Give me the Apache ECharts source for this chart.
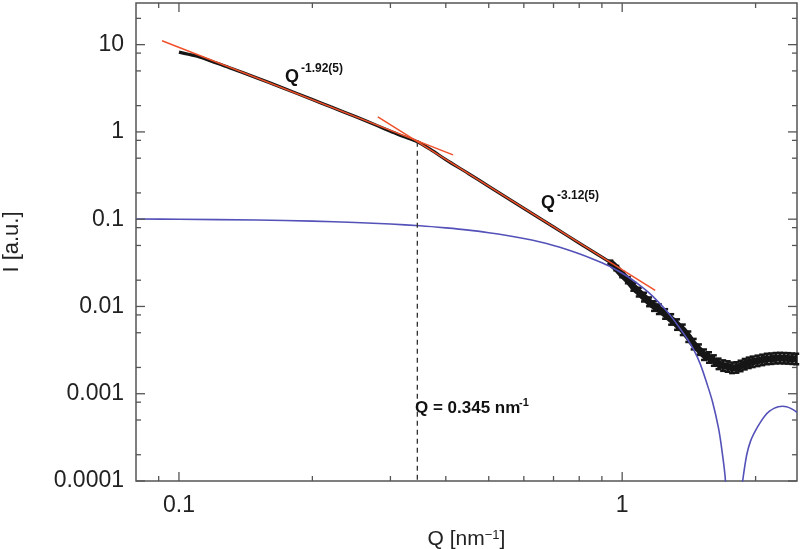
<!DOCTYPE html>
<html><head><meta charset="utf-8">
<script src="https://cdn.jsdelivr.net/npm/echarts@6.0.0/dist/echarts.min.js"></script>
<style>html,body{margin:0;padding:0;background:#fff}#c{width:800px;height:549px}</style>
</head><body><div id="c"></div>
<script>
// Axis extents
const X_MIN = 0.08, X_MAX = 2.48, Y_MIN = 0.0001, Y_MAX = 30;

// Tick values / labels
const xMajorTicks = [0.1, 1];
const xTickLabels = ['0.1', '1'];
const xMinorTicks = [0.09, 0.2, 0.3, 0.4, 0.5, 0.6, 0.7, 0.8, 0.9, 2];
const yMajorTicks = [0.0001, 0.001, 0.01, 0.1, 1, 10];
const yTickLabels = ['0.0001', '0.001', '0.01', '0.1', '1', '10'];
const yMinorTicks = [0.0002, 0.0005, 0.0008, 0.002, 0.005, 0.008, 0.02, 0.05, 0.08,
                     0.2, 0.5, 0.8, 2, 5, 8, 20];

// Measured scattering curve (smooth part)
const dataQ = [0.100, 0.105, 0.110, 0.120, 0.130, 0.150, 0.170, 0.200, 0.220, 0.250, 0.280,
               0.300, 0.320, 0.345, 0.370, 0.400, 0.450, 0.500, 0.550, 0.600, 0.700, 0.800,
               0.900, 0.940];
const dataI = [8.2, 7.75, 7.35, 6.3, 5.45, 4.15, 3.25, 2.35, 1.94, 1.50, 1.18,
               1.02, 0.89, 0.77, 0.625, 0.482, 0.333, 0.238, 0.1755, 0.133, 0.0815, 0.0533,
               0.0367, 0.0320];

// Measured curve, noisy high-Q tail (value and log10 half-width of scatter)
const tailQ = [0.94, 0.97, 1.00, 1.03, 1.06, 1.09, 1.12, 1.15, 1.18, 1.21, 1.25, 1.29, 1.33,
               1.37, 1.41, 1.45, 1.49, 1.53, 1.57, 1.61, 1.65, 1.69, 1.73, 1.77, 1.81, 1.85,
               1.89, 1.93, 1.97, 2.02, 2.07, 2.12, 2.17, 2.22, 2.27, 2.32, 2.37, 2.42, 2.47];
const tailI = [0.0320, 0.0275, 0.0232, 0.0200, 0.0168, 0.0146, 0.0128, 0.0113, 0.0101, 0.0093,
               0.0082, 0.0071, 0.0062, 0.0054, 0.0045, 0.0037, 0.0032, 0.0028, 0.0026, 0.0024,
               0.0022, 0.0021, 0.00205, 0.00198, 0.00200, 0.00208, 0.00218, 0.00226, 0.00232,
               0.00238, 0.00244, 0.00250, 0.00252, 0.00255, 0.00256, 0.00255, 0.00254, 0.00252,
               0.00250];
const tailErr = [0.02, 0.025, 0.03, 0.035, 0.045, 0.05, 0.05, 0.05, 0.055, 0.055, 0.055, 0.06,
                 0.06, 0.06, 0.06, 0.06, 0.06, 0.06, 0.06, 0.06, 0.06, 0.06, 0.06, 0.06, 0.06,
                 0.06, 0.06, 0.06, 0.06, 0.06, 0.06, 0.06, 0.06, 0.06, 0.06, 0.06, 0.06, 0.06,
                 0.06];

// Model curve (blue)
const modelQ = [0.080, 0.100, 0.150, 0.200, 0.250, 0.300, 0.350, 0.400, 0.450, 0.500, 0.550,
                0.600, 0.650, 0.700, 0.750, 0.800, 0.850, 0.900, 0.950, 1.000, 1.050, 1.100,
                1.150, 1.200, 1.250, 1.300, 1.350, 1.400, 1.450, 1.500, 1.550, 1.600, 1.650,
                1.680, 1.710, 1.740, 1.810, 1.850, 1.870, 1.910, 1.950, 2.000, 2.050, 2.100,
                2.150, 2.200, 2.250, 2.300, 2.350, 2.400, 2.450, 2.480];
const modelI = [0.1005, 0.0998, 0.0978, 0.0950, 0.0915, 0.0880, 0.0840, 0.0795, 0.0750, 0.0700,
                0.0650, 0.0600, 0.0550, 0.0500, 0.0450, 0.0402, 0.0357, 0.0316, 0.0278, 0.0240,
                0.0205, 0.0172, 0.0143, 0.0116, 0.0093, 0.0073, 0.0056, 0.0043, 0.0032, 0.0022,
                0.00135, 0.00080, 0.00040, 0.00022, 0.00010, 0.000005, 0.000005, 0.00006, 0.00010,
                0.00020, 0.00029, 0.00038, 0.00047, 0.00056, 0.00063, 0.00068, 0.00071, 0.00072,
                0.00071, 0.00068, 0.00064, 0.00061];

// Power-law fits (end points)
const fit1Q = [0.0916, 0.4153], fit1I = [11.1, 0.545];
const fit2Q = [0.281, 1.187],  fit2I = [1.49, 0.0153];

// Crossover marker
const markerQ = 0.345, markerTopI = 0.77;

const zip = (a, b) => a.map((v, i) => [v, b[i]]);
const AX = '#555', TXT = '#222', FONT = 'Liberation Sans, Arial, sans-serif';

function decadeLabel(v, majors, labels) {
  const lv = Math.log10(v);
  for (let i = 0; i < majors.length; i++) {
    if (Math.abs(Math.log10(majors[i]) - lv) < 1e-6) return labels[i];
  }
  return '';
}

const chart = echarts.init(document.getElementById('c'));
chart.setOption({
  animation: false,
  backgroundColor: '#fff',
  grid: { left: 136, right: 3, top: 3, bottom: 68, show: true, borderColor: AX, borderWidth: 1.5,
          backgroundColor: 'transparent', containLabel: false, outerBoundsMode: 'none' },
  xAxis: {
    type: 'log', min: X_MIN, max: X_MAX, logBase: 10,
    axisLine: { show: false }, axisTick: { show: false }, splitLine: { show: false },
    axisLabel: { color: TXT, fontSize: 23, fontFamily: FONT, margin: 13,
      formatter: v => decadeLabel(v, xMajorTicks, xTickLabels) },
    name: '{n|Q [nm}{s|−1}{n|]}', nameLocation: 'middle', nameGap: 48,
    nameTextStyle: { rich: {
      n: { fontSize: 21, color: TXT, fontFamily: FONT },
      s: { fontSize: 13, color: TXT, fontFamily: FONT, verticalAlign: 'top', padding: [0, 0, 6, 0] } } }
  },
  yAxis: {
    type: 'log', min: Y_MIN, max: Y_MAX, logBase: 10,
    axisLine: { show: false }, axisTick: { show: false }, splitLine: { show: false },
    axisLabel: { color: TXT, fontSize: 23, fontFamily: FONT, margin: 12,
      formatter: v => decadeLabel(v, yMajorTicks, yTickLabels) },
    name: 'I [a.u.]', nameLocation: 'middle', nameGap: 113,
    nameTextStyle: { fontSize: 22, color: TXT, fontFamily: FONT }
  },
  graphic: [
    { type: 'text', left: 285, top: 68, z: 100, style: { text: 'Q', font: 'bold 18px ' + FONT, fill: '#111' } },
    { type: 'text', left: 301, top: 63, z: 100, style: { text: '-1.92(5)', font: 'bold 12px ' + FONT, fill: '#111' } },
    { type: 'text', left: 541, top: 194, z: 100, style: { text: 'Q', font: 'bold 18px ' + FONT, fill: '#111' } },
    { type: 'text', left: 557, top: 190, z: 100, style: { text: '-3.12(5)', font: 'bold 12px ' + FONT, fill: '#111' } },
    { type: 'text', left: 415, top: 400, z: 100, style: { text: 'Q = 0.345 nm', font: 'bold 17px ' + FONT, fill: '#111' } },
    { type: 'text', left: 519, top: 397, z: 100, style: { text: '-1', font: 'bold 11px ' + FONT, fill: '#111' } }
  ],
  series: [
    { type: 'line', data: zip(dataQ, dataI), smooth: 0.3, symbol: 'none', z: 2,
      lineStyle: { color: '#161616', width: 3.2 } },
    { type: 'line', data: zip(tailQ, tailI), smooth: 0.2, symbol: 'none', z: 2,
      lineStyle: { color: '#161616', width: 7 } },
    { type: 'custom', z: 3, data: tailQ.map((q, i) => [q, tailI[i], tailErr[i]]),
      encode: { x: 0, y: 1 },
      renderItem: (params, api) => {
        const q = api.value(0), v = api.value(1), e = Math.pow(10, api.value(2));
        const hi = api.coord([q, v * e]), lo = api.coord([q, v / e]);
        const st = { stroke: '#161616', lineWidth: 2.5 };
        return { type: 'group', children: [
          { type: 'line', shape: { x1: hi[0], y1: hi[1], x2: lo[0], y2: lo[1] }, style: st },
          { type: 'line', shape: { x1: hi[0] - 3, y1: hi[1], x2: hi[0] + 3, y2: hi[1] }, style: st },
          { type: 'line', shape: { x1: lo[0] - 3, y1: lo[1], x2: lo[0] + 3, y2: lo[1] }, style: st }
        ] };
      } },
    { type: 'line', data: zip(modelQ, modelI), smooth: 0.3, symbol: 'none', z: 4, clip: true,
      lineStyle: { color: '#5452b8', width: 1.6 } },
    { type: 'line', data: [[markerQ, markerTopI], [markerQ, Y_MIN]], symbol: 'none', z: 4,
      lineStyle: { color: '#333', width: 1.3, type: [5, 4] } },
    { type: 'line', data: zip(fit1Q, fit1I), symbol: 'none', z: 5,
      lineStyle: { color: '#f0502a', width: 1.5 } },
    { type: 'line', data: zip(fit2Q, fit2I), symbol: 'none', z: 5,
      lineStyle: { color: '#f0502a', width: 1.5 } },
    { type: 'custom', z: 10, data: xMajorTicks.map(v => [v, Y_MIN, 1]).concat(xMinorTicks.map(v => [v, Y_MIN, 0])),
      encode: { x: 0, y: 1 },
      renderItem: (params, api) => {
        const q = api.value(0), L = api.value(2) ? 9 : 5;
        const b = api.coord([q, Y_MIN]), t = api.coord([q, Y_MAX]);
        const st = { stroke: AX, lineWidth: 1.3 };
        return { type: 'group', children: [
          { type: 'line', shape: { x1: b[0], y1: b[1], x2: b[0], y2: b[1] - L }, style: st },
          { type: 'line', shape: { x1: t[0], y1: t[1], x2: t[0], y2: t[1] + L }, style: st }
        ] };
      } },
    { type: 'custom', z: 10, data: yMajorTicks.map(v => [X_MIN, v, 1]).concat(yMinorTicks.map(v => [X_MIN, v, 0])),
      encode: { x: 0, y: 1 },
      renderItem: (params, api) => {
        const v = api.value(1), L = api.value(2) ? 9 : 5;
        const l = api.coord([X_MIN, v]), r = api.coord([X_MAX, v]);
        const st = { stroke: AX, lineWidth: 1.3 };
        return { type: 'group', children: [
          { type: 'line', shape: { x1: l[0], y1: l[1], x2: l[0] + L, y2: l[1] }, style: st },
          { type: 'line', shape: { x1: r[0], y1: r[1], x2: r[0] - L, y2: r[1] }, style: st }
        ] };
      } }
  ]
});
</script></body></html>
